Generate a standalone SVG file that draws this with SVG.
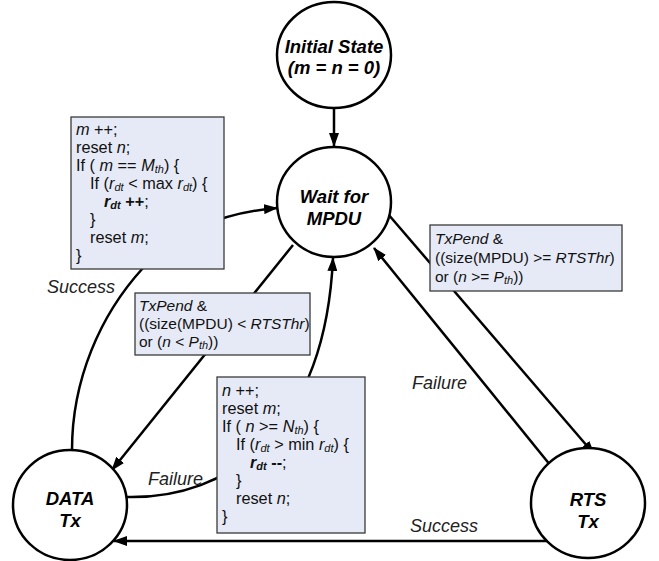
<svg xmlns="http://www.w3.org/2000/svg" width="659" height="561" viewBox="0 0 659 561">
<defs>
<marker id="arr" viewBox="0 0 14 10" refX="13" refY="5" markerWidth="14" markerHeight="10" markerUnits="userSpaceOnUse" orient="auto">
<path d="M0,0 L14,5 L0,10 z" fill="#000"/>
</marker>
<style>
.st{fill:#fff;stroke:#000;stroke-width:2.5}
.sl{font-family:"Liberation Sans",Arial,sans-serif;font-size:18.5px;font-weight:bold;font-style:italic;text-anchor:middle;fill:#000}
.c{fill:none;stroke:#000;stroke-width:2.5}
.box{fill:#E6EAF6;stroke:#3a3a3a;stroke-width:1.3}
.bt{font-family:"Liberation Sans",Arial,sans-serif;font-size:16.3px;fill:#111}
.bs{font-family:"Liberation Sans",Arial,sans-serif;font-size:15.5px;fill:#111}
.lb{font-family:"Liberation Sans",Arial,sans-serif;font-size:18px;font-style:italic;fill:#222}
.i{font-style:italic}
.b{font-weight:bold}
.sub{font-size:11px}
</style>
</defs>
<rect width="659" height="561" fill="#fff"/>

<g id="connectors">
<path class="c" d="M334,108 L334,146" marker-end="url(#arr)"/>
<path class="c" d="M72,450 C72,380 100,315 143,268 C175,233 220,213 277,208" marker-end="url(#arr)"/>
<path class="c" d="M293,245 L112,470" marker-end="url(#arr)"/>
<path class="c" d="M125,497 C230,500 325,430 333,258" marker-end="url(#arr)"/>
<path class="c" d="M388,214 L594,454" marker-end="url(#arr)"/>
<path class="c" d="M555,471 L374,248" marker-end="url(#arr)"/>
<path class="c" d="M555,541 L114,541" marker-end="url(#arr)"/>
</g>

<g id="initial">
<ellipse class="st" cx="334" cy="55" rx="57" ry="53"/>
<text class="sl" x="334" y="53">Initial State</text>
<text class="sl" x="334" y="74">(m = n = 0)</text>
</g>
<g id="wait">
<ellipse class="st" cx="334" cy="202" rx="57" ry="55"/>
<text class="sl" x="334" y="203">Wait for</text>
<text class="sl" x="334" y="225">MPDU</text>
</g>
<g id="data">
<ellipse class="st" cx="70" cy="505" rx="57" ry="55"/>
<text class="sl" x="70" y="505">DATA</text>
<text class="sl" x="70" y="527">Tx</text>
</g>
<g id="rts">
<ellipse class="st" cx="588" cy="503" rx="57" ry="55"/>
<text class="sl" x="588" y="506">RTS</text>
<text class="sl" x="588" y="528">Tx</text>
</g>

<g id="box-success">
<rect class="box" x="71" y="117" width="153" height="152"/>
<text class="bt">
<tspan x="76" y="135"><tspan class="i">m</tspan> ++;</tspan>
<tspan x="76" y="153">reset <tspan class="i">n</tspan>;</tspan>
<tspan x="76" y="171">If ( <tspan class="i">m</tspan> == <tspan class="i">M</tspan><tspan class="i sub" dy="2">th</tspan><tspan dy="-2">) {</tspan></tspan>
<tspan x="90" y="189">If (<tspan class="i">r</tspan><tspan class="i sub" dy="2">dt</tspan><tspan dy="-2"> &lt; max </tspan><tspan class="i">r</tspan><tspan class="i sub" dy="2">dt</tspan><tspan dy="-2">) {</tspan></tspan>
<tspan x="104" y="207"><tspan class="i b">r</tspan><tspan class="i b sub" dy="2">dt</tspan><tspan class="b" dy="-2"> ++</tspan>;</tspan>
<tspan x="90" y="225">}</tspan>
<tspan x="90" y="243">reset <tspan class="i">m</tspan>;</tspan>
<tspan x="76" y="261">}</tspan>
</text>
</g>

<g id="box-txpend-data">
<rect class="box" x="135" y="293" width="175" height="62"/>
<text class="bs">
<tspan x="139" y="311"><tspan class="i">TxPend</tspan> &amp;</tspan>
<tspan x="139" y="329">((size(MPDU) &lt; <tspan class="i">RTSThr</tspan>)</tspan>
<tspan x="139" y="347">or (<tspan class="i">n</tspan> &lt; <tspan class="i">P</tspan><tspan class="i sub" dy="2">th</tspan><tspan dy="-2">))</tspan></tspan>
</text>
</g>

<g id="box-txpend-rts">
<rect class="box" x="430" y="225" width="192" height="66"/>
<text class="bs">
<tspan x="435" y="244"><tspan class="i">TxPend</tspan> &amp;</tspan>
<tspan x="435" y="263">((size(MPDU) &gt;= <tspan class="i">RTSThr</tspan>)</tspan>
<tspan x="435" y="282">or (<tspan class="i">n</tspan> &gt;= <tspan class="i">P</tspan><tspan class="i sub" dy="2">th</tspan><tspan dy="-2">))</tspan></tspan>
</text>
</g>

<g id="box-failure">
<rect class="box" x="217" y="377" width="148" height="156"/>
<text class="bt">
<tspan x="222" y="396"><tspan class="i">n</tspan> ++;</tspan>
<tspan x="222" y="414">reset <tspan class="i">m</tspan>;</tspan>
<tspan x="222" y="432">If ( <tspan class="i">n</tspan> &gt;= <tspan class="i">N</tspan><tspan class="i sub" dy="2">th</tspan><tspan dy="-2">) {</tspan></tspan>
<tspan x="236" y="450">If (<tspan class="i">r</tspan><tspan class="i sub" dy="2">dt</tspan><tspan dy="-2"> &gt; min </tspan><tspan class="i">r</tspan><tspan class="i sub" dy="2">dt</tspan><tspan dy="-2">) {</tspan></tspan>
<tspan x="250" y="468"><tspan class="i b">r</tspan><tspan class="i b sub" dy="2">dt</tspan><tspan class="b" dy="-2"> --</tspan>;</tspan>
<tspan x="236" y="486">}</tspan>
<tspan x="236" y="504">reset <tspan class="i">n</tspan>;</tspan>
<tspan x="222" y="522">}</tspan>
</text>
</g>

<g id="labels">
<text class="lb" x="47" y="293">Success</text>
<text class="lb" x="148" y="485">Failure</text>
<text class="lb" x="412" y="389">Failure</text>
<text class="lb" x="410" y="532">Success</text>
</g>
</svg>
